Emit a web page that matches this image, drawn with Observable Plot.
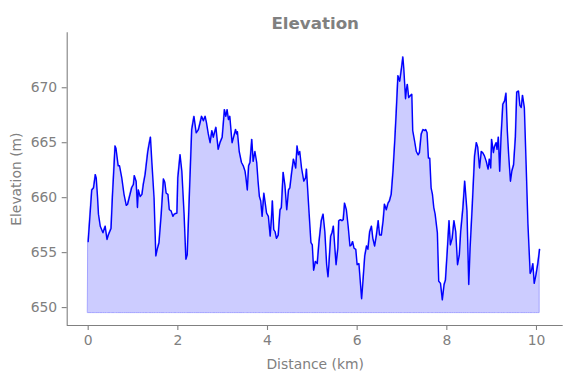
<!DOCTYPE html>
<html>
<head>
<meta charset="utf-8">
<script src="https://cdn.jsdelivr.net/npm/d3@7"></script>
<script src="https://cdn.jsdelivr.net/npm/@observablehq/plot@0.6"></script>
<style>
  html, body { margin: 0; padding: 0; background: #fff; }
  #chart { width: 571px; height: 378px; }
</style>
</head>
<body>
<div id="chart"></div>
<script>
const title = "Elevation";
const xLabel = "Distance (km)";
const yLabel = "Elevation (m)";
const xTicks = [0, 2, 4, 6, 8, 10];
const yTicks = [650, 655, 660, 665, 670];
const baseElevation = 649.5;

const distance = [
  0.00,0.08,0.12,0.16,0.18,0.21,0.23,0.27,0.33,0.38,0.42,0.45,0.51,0.54,0.60,0.62,0.67,0.70,0.75,0.80,
  0.85,0.88,0.94,0.97,1.01,1.03,1.07,1.10,1.12,1.16,1.20,1.23,1.27,1.33,1.36,1.39,1.42,1.47,1.51,1.54,
  1.58,1.63,1.68,1.71,1.74,1.78,1.81,1.85,1.89,1.92,1.98,2.00,2.05,2.09,2.14,2.18,2.21,2.26,2.31,2.36,
  2.41,2.46,2.49,2.53,2.57,2.61,2.64,2.68,2.72,2.76,2.79,2.85,2.90,2.94,2.99,3.04,3.07,3.10,3.13,3.16,
  3.21,3.25,3.29,3.31,3.33,3.37,3.42,3.46,3.50,3.52,3.55,3.58,3.61,3.65,3.68,3.72,3.76,3.79,3.82,3.85,
  3.88,3.92,3.95,3.98,4.02,4.06,4.09,4.11,4.14,4.17,4.20,4.24,4.28,4.31,4.35,4.39,4.43,4.47,4.50,4.54,
  4.58,4.63,4.66,4.69,4.72,4.76,4.81,4.85,4.87,4.89,4.93,4.97,5.00,5.03,5.07,5.11,5.15,5.20,5.24,5.28,
  5.32,5.35,5.37,5.41,5.44,5.47,5.50,5.53,5.57,5.59,5.63,5.66,5.69,5.72,5.76,5.80,5.84,5.87,5.90,5.93,
  5.97,6.00,6.04,6.07,6.10,6.13,6.17,6.21,6.24,6.28,6.32,6.35,6.39,6.43,6.47,6.50,6.54,6.58,6.61,6.65,
  6.69,6.72,6.76,6.80,6.84,6.87,6.91,6.95,6.99,7.02,7.04,7.08,7.10,7.12,7.15,7.19,7.22,7.24,7.28,7.32,
  7.36,7.39,7.43,7.47,7.51,7.53,7.56,7.59,7.62,7.65,7.68,7.71,7.74,7.79,7.82,7.86,7.90,7.94,7.97,8.01,
  8.05,8.08,8.12,8.16,8.20,8.24,8.28,8.31,8.36,8.40,8.45,8.49,8.52,8.57,8.62,8.66,8.69,8.73,8.77,8.80,
  8.84,8.88,8.92,8.95,8.98,9.00,9.04,9.06,9.10,9.12,9.15,9.18,9.21,9.25,9.29,9.32,9.35,9.38,9.42,9.45,
  9.49,9.53,9.56,9.60,9.63,9.66,9.69,9.73,9.77,9.81,9.86,9.89,9.92,9.95,9.99,10.03,10.07
];

const elevation = [
  656.0,660.7,660.9,662.1,661.8,660.0,658.5,657.4,656.8,657.4,656.2,656.6,657.2,660.0,664.7,664.5,662.9,662.9,661.8,660.3,
  659.3,659.4,660.4,660.9,661.2,662.0,661.5,659.1,660.7,660.1,660.3,661.2,662.1,664.2,664.9,665.5,663.3,660.0,654.7,655.3,
  655.9,658.5,661.7,661.4,660.4,660.3,658.9,658.8,658.3,658.5,658.6,661.8,663.9,662.4,658.5,654.4,654.8,660.5,666.2,667.4,
  665.9,666.2,666.7,667.4,667.0,667.4,666.8,665.8,665.0,666.1,665.5,666.4,664.4,665.0,665.5,668.0,667.4,668.0,667.1,667.4,
  665.0,665.6,666.2,665.8,666.0,664.2,663.2,662.9,662.4,661.8,660.7,662.9,663.2,665.3,663.3,664.2,663.2,661.5,660.1,659.7,
  658.3,660.4,659.5,658.6,658.3,656.5,658.2,659.7,657.1,656.9,656.3,656.6,658.9,659.1,662.3,661.1,658.9,660.7,660.9,662.3,
  663.5,662.7,664.7,663.9,664.2,662.7,661.5,661.8,662.6,661.2,658.5,655.9,655.7,653.4,654.2,654.0,656.0,657.9,658.5,656.9,
  653.9,652.8,653.9,656.5,656.8,657.4,655.6,653.9,655.4,657.9,658.0,657.9,658.0,659.5,658.9,657.4,655.6,655.7,656.0,655.4,
  655.3,653.9,654.0,652.4,650.8,652.4,654.7,655.6,655.3,656.9,657.4,656.3,655.6,656.6,657.9,656.6,656.6,657.9,659.4,658.9,
  659.5,659.7,660.3,662.4,665.2,667.6,671.1,670.6,671.8,672.8,671.8,669.0,669.9,670.3,669.1,669.3,669.4,666.1,665.2,664.2,
  663.9,664.1,665.8,666.2,666.1,666.2,665.9,663.6,663.6,660.9,660.3,659.1,658.5,656.8,652.4,652.2,650.7,652.1,652.5,655.1,
  657.9,655.7,656.3,657.9,656.9,653.9,654.8,656.9,659.1,661.5,658.8,652.1,655.4,659.4,663.8,665.0,664.6,662.7,664.2,664.1,
  663.8,663.3,662.6,663.5,662.7,665.3,664.1,664.6,665.0,664.4,665.5,662.4,665.5,668.5,668.8,669.5,666.1,663.9,661.5,662.4,
  663.0,665.5,669.6,669.7,668.4,668.2,669.3,668.2,663.0,657.6,653.1,653.4,654.0,652.2,653.0,654.0,655.3
];

const data = distance.map((d, i) => ({distance: d, elevation: elevation[i]}));
const xDomain = [-0.468, 10.596];
const yDomain = [648.37, 675.0];

const chart = Plot.plot({
  width: 571,
  height: 378,
  marginTop: 32.3,
  marginBottom: 53,
  marginLeft: 66.7,
  marginRight: 8.3,
  style: {fontFamily: "'DejaVu Sans', sans-serif", fontSize: "13.9px", color: "gray", background: "white"},
  x: {domain: xDomain},
  y: {domain: yDomain},
  marks: [
    Plot.areaY(data, {x: "distance", y1: baseElevation, y2: "elevation", fill: "#ccccff", stroke: "#a3a3ff", strokeWidth: 1}),
    Plot.line(data, {x: "distance", y: "elevation", stroke: "#0000ff", strokeWidth: 1.4}),
    Plot.ruleX([xDomain[0]], {stroke: "gray", strokeWidth: 1.1}),
    Plot.ruleY([yDomain[0]], {stroke: "gray", strokeWidth: 1.1}),
    Plot.axisX(xTicks, {anchor: "bottom", tickSize: 5, tickPadding: 5, strokeWidth: 1.1, label: xLabel, labelAnchor: "center", labelArrow: "none", labelOffset: 43}),
    Plot.axisY(yTicks, {anchor: "left", tickSize: 5, tickPadding: 5, strokeWidth: 1.1, label: yLabel, labelAnchor: "center", labelArrow: "none", labelOffset: 56}),
    Plot.text([title], {frameAnchor: "top", lineAnchor: "bottom", dy: -3.5, text: d => d, fontSize: 16.7, fontWeight: "bold", fill: "gray"})
  ]
});
document.getElementById("chart").appendChild(chart);
</script>
</body>
</html>
